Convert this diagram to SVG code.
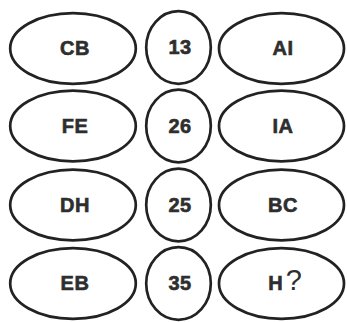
<svg xmlns="http://www.w3.org/2000/svg" width="347" height="322" viewBox="0 0 347 322">
<style>
.e{fill:#fff;stroke:#222;stroke-width:2.7}
.t{font-family:"Liberation Sans",Arial,sans-serif;font-weight:bold;font-size:20px;fill:#2e2e2e;stroke:#2e2e2e;stroke-width:0.6;text-anchor:middle;letter-spacing:0.5px}
.q{font-family:"Liberation Sans",Arial,sans-serif;font-weight:normal;font-size:29px;fill:#2e2e2e}
</style>
<rect width="347" height="322" fill="#fff"/>
<g id="connectors"/>
<g id="r1l"><ellipse class="e" cx="73" cy="48.5" rx="62.8" ry="35.3"/><text class="t" x="75" y="55">CB</text></g>
<g id="r1m"><ellipse class="e" cx="178.5" cy="47.5" rx="32.3" ry="36.3"/><text class="t" x="180" y="54">13</text></g>
<g id="r1r"><ellipse class="e" cx="281.5" cy="48.5" rx="62.5" ry="35.3"/><text class="t" x="283" y="55">AI</text></g>
<g id="r2l"><ellipse class="e" cx="73" cy="126" rx="62.8" ry="35.3"/><text class="t" x="75" y="133">FE</text></g>
<g id="r2m"><ellipse class="e" cx="178.5" cy="126" rx="32.3" ry="36.3"/><text class="t" x="180" y="133">26</text></g>
<g id="r2r"><ellipse class="e" cx="281.5" cy="126" rx="62.5" ry="35.3"/><text class="t" x="283" y="133">IA</text></g>
<g id="r3l"><ellipse class="e" cx="73" cy="205" rx="62.8" ry="35.3"/><text class="t" x="75" y="212">DH</text></g>
<g id="r3m"><ellipse class="e" cx="178.5" cy="205" rx="32.3" ry="36.3"/><text class="t" x="180" y="212">25</text></g>
<g id="r3r"><ellipse class="e" cx="281.5" cy="205" rx="62.5" ry="35.3"/><text class="t" x="283" y="212">BC</text></g>
<g id="r4l"><ellipse class="e" cx="73" cy="283.5" rx="62.8" ry="35.3"/><text class="t" x="75" y="290">EB</text></g>
<g id="r4m"><ellipse class="e" cx="178.5" cy="283.5" rx="32.3" ry="36.3"/><text class="t" x="180" y="290">35</text></g>
<g id="r4r"><ellipse class="e" cx="281.5" cy="283.5" rx="62.5" ry="35.3"/><text x="285" y="290" text-anchor="middle"><tspan class="t" style="letter-spacing:0">H</tspan><tspan class="q" dx="3">?</tspan></text></g>
</svg>
